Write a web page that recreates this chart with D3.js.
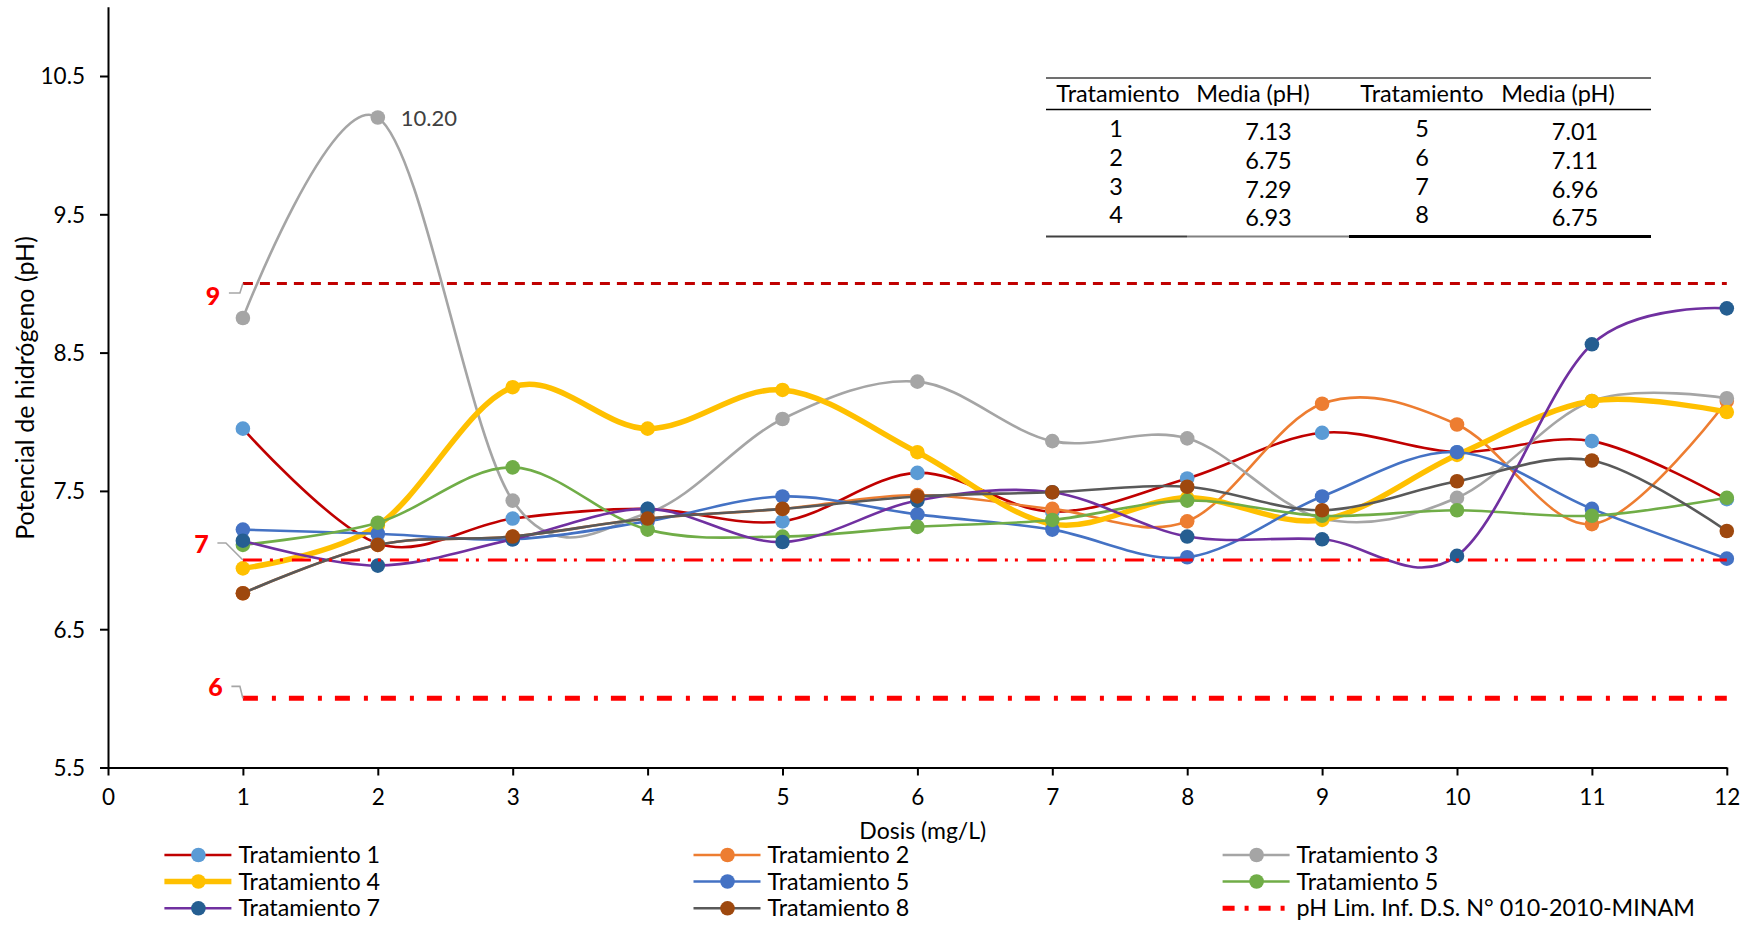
<!DOCTYPE html>
<html><head><meta charset="utf-8">
<script src="https://cdn.jsdelivr.net/npm/d3@7/dist/d3.min.js"></script>
<style>
body{margin:0;background:#fff;}
svg{display:block;font-family:Lato,"Liberation Sans",sans-serif;}
</style></head><body>
<svg id="chart" width="1754" height="925"></svg>
<script>
// ---------- data ----------
const doses = [1,2,3,4,5,6,7,8,9,10,11,12];
const xTickValues = [0,1,2,3,4,5,6,7,8,9,10,11,12];
const yTickValues = [5.5,6.5,7.5,8.5,9.5,10.5];

const trat1 = [7.95,7.12,7.30,7.37,7.28,7.63,7.35,7.59,7.92,7.78,7.86,7.44];
const trat2 = [6.76,7.11,7.17,7.30,7.37,7.47,7.37,7.28,8.13,7.98,7.26,8.15];
const trat3 = [8.75,10.20,7.43,7.34,8.02,8.29,7.86,7.88,7.30,7.45,8.15,8.17];
const trat4 = [6.94,7.25,8.25,7.95,8.23,7.78,7.26,7.45,7.29,7.76,8.15,8.07];
const trat5 = [7.22,7.19,7.15,7.28,7.46,7.33,7.22,7.02,7.46,7.78,7.37,7.01];
const trat6 = [7.11,7.27,7.67,7.22,7.17,7.24,7.29,7.43,7.32,7.36,7.32,7.45];
const trat7 = [7.14,6.96,7.15,7.37,7.13,7.43,7.49,7.17,7.15,7.03,8.56,8.82];
const trat8 = [6.76,7.11,7.17,7.30,7.37,7.46,7.49,7.53,7.36,7.57,7.72,7.21];

const seriesLabels = ["Tratamiento 1","Tratamiento 2","Tratamiento 3","Tratamiento 4",
                      "Tratamiento 5","Tratamiento 5","Tratamiento 7","Tratamiento 8"];
const limitValues = [9, 7, 6];
const limitLabels = ["9", "7", "6"];
const limitLegendLabel = "pH Lim. Inf. D.S. N° 010-2010-MINAM";
const peakLabel = "10.20";

const tableHeader = ["Tratamiento","Media (pH)","Tratamiento","Media (pH)"];
const tableTratA = ["1","2","3","4"];
const tableMediaA = ["7.13","6.75","7.29","6.93"];
const tableTratB = ["5","6","7","8"];
const tableMediaB = ["7.01","7.11","6.96","6.75"];

const xTitle = "Dosis (mg/L)";
const yTitle = "Potencial de hidrógeno (pH)";

// ---------- styles ----------
const seriesStyle = [
  {line:"#C00000", mark:"#5B9BD5", w:2.6},
  {line:"#ED7D31", mark:"#ED7D31", w:2.6},
  {line:"#A5A5A5", mark:"#A5A5A5", w:2.6},
  {line:"#FFC000", mark:"#FFC000", w:5.5},
  {line:"#4472C4", mark:"#4472C4", w:2.6},
  {line:"#70AD47", mark:"#70AD47", w:2.6},
  {line:"#7030A0", mark:"#255E91", w:2.6},
  {line:"#595959", mark:"#9E480E", w:2.6}
];
const limitStyle = [
  {color:"#C00000", w:3, dash:"10,7"},
  {color:"#FF0000", w:3, dash:"19,8,3,7,3,9"},
  {color:"#FF0000", w:5, dash:"15,14,4,13"}
];
const TICK_FONT = 22.5, LEG_FONT = 23.3, TAB_FONT = 23.5, YT_FONT = 25, XT_FONT = 23;

const allSeries = [trat1,trat2,trat3,trat4,trat5,trat6,trat7,trat8];

const svg = d3.select("#chart");
const x = d3.scaleLinear().domain([0,12]).range([108,1726.8]);
const y = d3.scaleLinear().domain([5.5,11]).range([767.5,6.85]);

// ---------- axes ----------
const xAxis = svg.append("g").attr("transform",`translate(0,${y(5.5)})`)
  .call(d3.axisBottom(x).tickValues(xTickValues).tickFormat(d3.format("d")).tickSize(8).tickSizeOuter(0));
xAxis.select(".domain").attr("stroke","#000").attr("stroke-width",2);
xAxis.selectAll(".tick line").attr("stroke","#000").attr("stroke-width",2);
xAxis.selectAll(".tick text").attr("y",30).attr("dy","0.35em")
  .attr("font-size",TICK_FONT).attr("fill","#000").attr("font-family","Lato");

const yAxis = svg.append("g").attr("transform",`translate(${x(0)},0)`)
  .call(d3.axisLeft(y).tickValues(yTickValues).tickFormat(d3.format(".1f")).tickSize(8).tickSizeOuter(0));
yAxis.select(".domain").attr("stroke","#000").attr("stroke-width",2);
yAxis.selectAll(".tick line").attr("stroke","#000").attr("stroke-width",2);
yAxis.selectAll(".tick text").attr("x",-23).attr("dy","0.35em")
  .attr("font-size",TICK_FONT).attr("fill","#000").attr("font-family","Lato");

svg.append("text").attr("x",x(6.04)).attr("y",831).attr("dy","0.35em")
  .attr("text-anchor","middle").attr("font-size",XT_FONT).attr("fill","#000").text(xTitle);
svg.append("text").attr("transform","translate(25,388) rotate(-90)").attr("dy","0.35em")
  .attr("text-anchor","middle").attr("font-size",YT_FONT).attr("fill","#000").text(yTitle);

// ---------- series ----------
const line = d3.line().x(d=>x(d[0])).y(d=>y(d[1])).curve(d3.curveCatmullRom.alpha(0));
allSeries.forEach((vals,i)=>{
  const pts = doses.map((d,j)=>[d,vals[j]]);
  const g = svg.append("g");
  g.append("path").attr("d",line(pts)).attr("fill","none")
    .attr("stroke",seriesStyle[i].line).attr("stroke-width",seriesStyle[i].w)
    .attr("stroke-linejoin","round").attr("stroke-linecap","round");
  g.selectAll("circle").data(pts).join("circle")
    .attr("cx",d=>x(d[0])).attr("cy",d=>y(d[1])).attr("r",7.3)
    .attr("fill",seriesStyle[i].mark);
});

// peak label
const peakIdx = trat3.indexOf(d3.max(trat3));
svg.append("text").attr("x",x(doses[peakIdx])+23).attr("y",y(trat3[peakIdx])+1).attr("dy","0.35em")
  .attr("font-size",22).attr("fill","#404040").text(peakLabel);

// ---------- limit lines ----------
const limitLabelOffset = [{dx:-30,dy:12.5,lx:-13,ly:9.5},{dx:-41.5,dy:-16,lx:-27,ly:-17},{dx:-27.5,dy:-11,lx:-13,ly:-12}];
limitValues.forEach((v,i)=>{
  const pts = doses.map(d=>[d,v]);
  svg.append("path").attr("d",d3.line().x(d=>x(d[0])).y(d=>y(d[1]))(pts))
    .attr("fill","none").attr("stroke",limitStyle[i].color).attr("stroke-width",limitStyle[i].w)
    .attr("stroke-dasharray",limitStyle[i].dash);
  const x0 = x(doses[0]), y0 = y(v), o = limitLabelOffset[i];
  svg.append("path")
    .attr("d",`M${x0+o.dx+16},${y0+o.ly} H${x0+o.lx+10} L${x0},${y0}`)
    .attr("fill","none").attr("stroke","#A6A6A6").attr("stroke-width",1.6);
  svg.append("text").attr("x",x0+o.dx).attr("y",y0+o.dy).attr("dy","0.36em")
    .attr("text-anchor","middle").attr("font-size",25).attr("font-weight",900)
    .attr("fill","#FF0000").text(limitLabels[i]);
});

// ---------- legend ----------
const legCols = [164.4, 693.5, 1222.6];
const legRows = [855, 881.5, 908.3];
const legendItems = seriesLabels.map((t,i)=>({t, s:seriesStyle[i]}));
legendItems.push({t:limitLegendLabel, lim:limitStyle[2]});
legendItems.forEach((it,k)=>{
  const lx = legCols[k%3], ly = legRows[Math.floor(k/3)];
  const g = svg.append("g");
  if(it.lim){
    g.append("line").attr("x1",lx).attr("x2",lx+67).attr("y1",ly).attr("y2",ly)
      .attr("stroke",it.lim.color).attr("stroke-width",it.lim.w).attr("stroke-dasharray","12,10,4,10");
  } else {
    g.append("line").attr("x1",lx).attr("x2",lx+67).attr("y1",ly).attr("y2",ly)
      .attr("stroke",it.s.line).attr("stroke-width",it.s.w);
    g.append("circle").attr("cx",lx+34).attr("cy",ly).attr("r",7.3).attr("fill",it.s.mark);
  }
  g.append("text").attr("x",lx+74).attr("y",ly).attr("dy","0.35em")
    .attr("font-size",LEG_FONT).attr("fill","#000").text(it.t);
});

// ---------- table ----------
const tb = svg.append("g");
const tL = 1046, tR = 1651;
tb.append("line").attr("x1",tL).attr("x2",tR).attr("y1",78).attr("y2",78).attr("stroke","#404040").attr("stroke-width",1.5);
tb.append("line").attr("x1",tL).attr("x2",tR).attr("y1",109.5).attr("y2",109.5).attr("stroke","#000").attr("stroke-width",1.5);
tb.append("line").attr("x1",tL).attr("x2",1187).attr("y1",236.5).attr("y2",236.5).attr("stroke","#404040").attr("stroke-width",2);
tb.append("line").attr("x1",1187).attr("x2",1349).attr("y1",236.5).attr("y2",236.5).attr("stroke","#808080").attr("stroke-width",2);
tb.append("line").attr("x1",1349).attr("x2",tR).attr("y1",236.5).attr("y2",236.5).attr("stroke","#000").attr("stroke-width",3);
const headX = [1118, 1253, 1422, 1558];
tableHeader.forEach((h,i)=>{
  tb.append("text").attr("x",headX[i]).attr("y",102).attr("text-anchor","middle")
    .attr("font-size",TAB_FONT).attr("fill","#000").text(h);
});
const rowY = [137, 166, 195, 223];
const cols = [{arr:tableTratA,x:1116,dy:0},{arr:tableMediaA,x:1268.5,dy:3},{arr:tableTratB,x:1422,dy:0},{arr:tableMediaB,x:1575,dy:3}];
cols.forEach(c=>{
  c.arr.forEach((t,j)=>{
    tb.append("text").attr("x",c.x).attr("y",rowY[j]+c.dy).attr("text-anchor","middle")
      .attr("font-size",TAB_FONT).attr("fill","#000").text(t);
  });
});
</script>
</body></html>
